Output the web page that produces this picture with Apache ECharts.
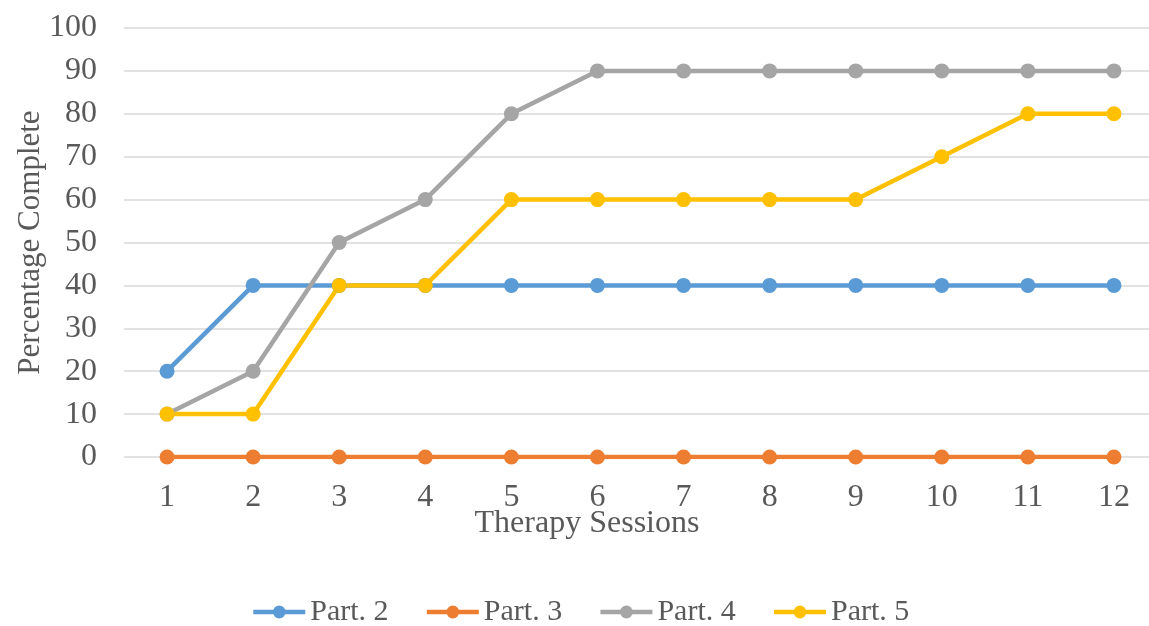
<!DOCTYPE html>
<html><head><meta charset="utf-8">
<script src="https://cdn.jsdelivr.net/npm/echarts@6/dist/echarts.min.js"></script>
<style>html,body{margin:0;padding:0;background:#fff}#c{width:1149px;height:626px}</style>
</head><body><div id="c"></div>
<script>
const sessions = ['1','2','3','4','5','6','7','8','9','10','11','12'];
const part2 = [20,40,40,40,40,40,40,40,40,40,40,40];
const part3 = [0,0,0,0,0,0,0,0,0,0,0,0];
const part4 = [10,20,50,60,80,90,90,90,90,90,90,90];
const part5 = [10,10,40,40,60,60,60,60,60,70,80,80];
const seriesNames = ['Part. 2','Part. 3','Part. 4','Part. 5'];
const colors = ['#5B9BD5','#ED7D31','#A5A5A5','#FFC000'];
const font = 'Liberation Serif';
const txt = '#595959';
const chart = echarts.init(document.getElementById('c'));
const mk = (name, data, i) => ({
  name, type:'line', data, symbol:'circle', symbolSize:15,
  lineStyle:{width:4.5,color:colors[i]}, itemStyle:{color:colors[i]},
  emphasis:{disabled:true}, animation:false
});
chart.setOption({
  animation:false,
  color: colors,
  textStyle:{fontFamily:font},
  grid:{left:124,right:-8,top:28,bottom:169,containLabel:false,outerBoundsMode:'none'},
  xAxis:{type:'category',data:sessions,boundaryGap:true,
    axisLine:{show:false},axisTick:{show:false},
    axisLabel:{color:txt,fontSize:32,fontFamily:font,margin:25},
    splitLine:{show:false}},
  yAxis:{type:'value',min:0,max:100,interval:10,
    name:'Percentage Complete',nameLocation:'middle',nameGap:78,nameMoveOverlap:false,
    nameTextStyle:{color:txt,fontSize:31,fontFamily:font},
    axisLine:{show:false},axisTick:{show:false},
    axisLabel:{color:txt,fontSize:32,fontFamily:font,margin:27},
    splitLine:{lineStyle:{color:'#d9d9d9',width:1.5}}},
  legend:{data:seriesNames,left:246,top:592,itemWidth:52,itemHeight:16,itemGap:36,
    lineStyle:{width:4.5},
    textStyle:{color:txt,fontSize:30,fontFamily:font}},
  graphic:[{type:'text',x:587,y:524,
    style:{text:'Therapy Sessions',fill:txt,font:'32px "Liberation Serif"',textAlign:'center',textVerticalAlign:'middle'}}],
  series:[mk(seriesNames[0],part2,0),mk(seriesNames[1],part3,1),mk(seriesNames[2],part4,2),mk(seriesNames[3],part5,3)]
});
</script></body></html>
